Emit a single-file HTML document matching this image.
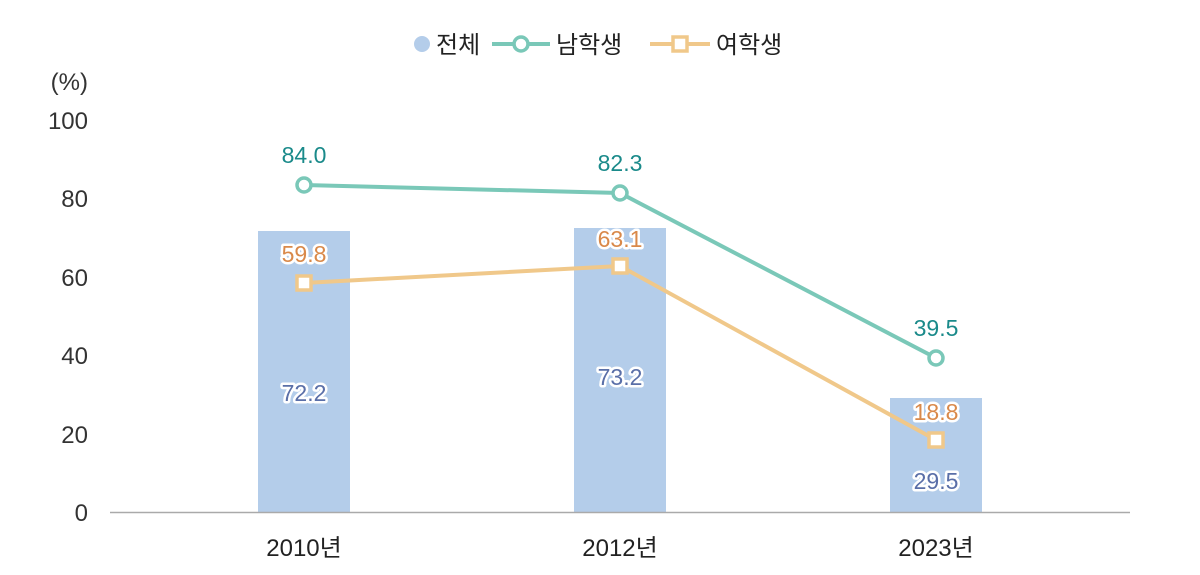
<!DOCTYPE html>
<html><head><meta charset="utf-8"><style>
html,body{margin:0;padding:0;background:#fff;}
svg{display:block;font-family:"Liberation Sans","Noto Sans CJK KR",sans-serif;}
.ol{paint-order:stroke;stroke:#fff;stroke-width:5px;stroke-linejoin:round;}
</style></head><body>
<svg width="1200" height="575" viewBox="0 0 1200 575">
<!-- legend -->
<circle cx="422" cy="44" r="8" fill="#b4cdea"/>
<text x="436" y="53" font-size="24" fill="#222">전체</text>
<line x1="492" y1="44" x2="550" y2="44" stroke="#7ac8b8" stroke-width="4"/>
<circle cx="521" cy="44" r="7" fill="#fff" stroke="#7ac8b8" stroke-width="3.5"/>
<text x="556" y="53" font-size="24" fill="#222">남학생</text>
<line x1="650" y1="44" x2="710" y2="44" stroke="#f0c88a" stroke-width="4"/>
<rect x="673" y="37" width="14" height="14" fill="#fff" stroke="#f0c88a" stroke-width="3.5"/>
<text x="716" y="53" font-size="24" fill="#222">여학생</text>
<!-- y axis -->
<g font-size="24" fill="#333" text-anchor="end">
<text x="88" y="90">(%)</text>
<text x="88" y="129">100</text>
<text x="88" y="207">80</text>
<text x="88" y="286">60</text>
<text x="88" y="364">40</text>
<text x="88" y="443">20</text>
<text x="88" y="521">0</text>
</g>
<!-- bars -->
<rect x="258" y="231" width="92" height="281" fill="#b4cdea"/>
<rect x="574" y="228" width="92" height="284" fill="#b4cdea"/>
<rect x="890" y="398" width="92" height="114" fill="#b4cdea"/>
<line x1="110" y1="512.5" x2="1130" y2="512.5" stroke="#aaa" stroke-width="1.5"/>
<!-- x labels -->
<g font-size="24" fill="#222" text-anchor="middle">
<text x="304" y="556">2010년</text>
<text x="620" y="556">2012년</text>
<text x="936" y="556">2023년</text>
</g>
<!-- lines -->
<polyline points="304,185 620,193 936,358" fill="none" stroke="#7ac8b8" stroke-width="4"/>
<polyline points="304,283 620,266 936,440" fill="none" stroke="#f0c88a" stroke-width="4"/>
<g fill="#fff" stroke="#7ac8b8" stroke-width="3.5">
<circle cx="304" cy="185" r="7"/><circle cx="620" cy="193" r="7"/><circle cx="936" cy="358" r="7"/>
</g>
<g fill="#fff" stroke="#f0c88a" stroke-width="3.5">
<rect x="297" y="276" width="14" height="14"/><rect x="613" y="259" width="14" height="14"/><rect x="929" y="433" width="14" height="14"/>
</g>
<!-- labels -->
<g font-size="23" text-anchor="middle">
<text x="304" y="163" fill="#1a8a8a">84.0</text>
<text x="620" y="171" fill="#1a8a8a">82.3</text>
<text x="936" y="336" fill="#1a8a8a">39.5</text>
<text class="ol" x="304" y="262" fill="#d9894a">59.8</text>
<text class="ol" x="620" y="247" fill="#d9894a">63.1</text>
<text class="ol" x="936" y="420" fill="#d9894a">18.8</text>
<text class="ol" x="304" y="401" fill="#5a6fa8">72.2</text>
<text class="ol" x="620" y="385" fill="#5a6fa8">73.2</text>
<text class="ol" x="936" y="489" fill="#5a6fa8">29.5</text>
</g>
</svg>
</body></html>
